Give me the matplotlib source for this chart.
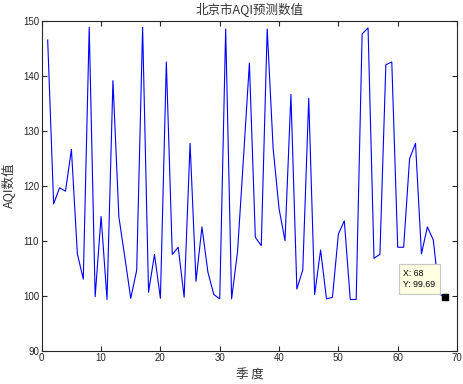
import numpy as np
import matplotlib
matplotlib.use("Agg")
import matplotlib.pyplot as plt

# 季度 / 预测的AQI数值
quarters = np.arange(1, 69)
aqi_pred = [146.5, 116.7, 119.6, 119.0, 126.6, 107.6, 103.0, 148.8, 99.8, 114.4,
            99.3, 139.1, 114.3, 107.0, 99.5, 104.6, 148.8, 100.6, 107.5, 99.5,
            142.5, 107.5, 108.8, 99.7, 127.7, 102.6, 112.5, 104.3, 100.2, 99.4,
            148.5, 99.4, 108.0, 125.0, 142.3, 110.6, 109.1, 148.5, 126.8, 115.8,
            110.0, 136.6, 101.2, 104.7, 135.9, 100.2, 108.3, 99.4, 99.7, 111.2,
            113.6, 99.3, 99.3, 147.6, 148.7, 106.8, 107.5, 142.0, 142.5, 108.8,
            108.8, 124.9, 127.7, 107.6, 112.5, 110.1, 100.3, 99.69]

xticks = [0, 10, 20, 30, 40, 50, 60, 70]
yticks = [90, 100, 110, 120, 130, 140, 150]

cjk = ['Noto Sans CJK SC', 'DejaVu Sans']
plt.rcParams['font.family'] = ['Liberation Sans', 'DejaVu Sans']

fig = plt.figure(figsize=(4.64, 3.84), dpi=100)
ax = fig.add_axes([0.09, 0.087, 0.895, 0.859])

ax.plot(quarters, aqi_pred, color='#0000ff', linewidth=0.8)

ax.set_xlim(0, 70)
ax.set_ylim(90, 150)
ax.set_xticks(xticks)
ax.set_yticks(yticks)
ax.tick_params(direction='in', length=3.5, width=0.8, labelsize=7,
               top=True, right=True, colors='#262626', pad=2)
for s in ax.spines.values():
    s.set_linewidth(0.8)
    s.set_color('#262626')

ax.set_title('北京市AQI预测数值', family=cjk, fontsize=9, pad=5, color='#333333')
ax.set_xlabel('季 度', family=cjk, fontsize=9, labelpad=4, color='#333333')
ax.set_ylabel('AQI数值', family=cjk, fontsize=9, labelpad=5, color='#333333')

# 数据游标
last_x, last_y = quarters[-1], aqi_pred[-1]
ax.plot([last_x], [last_y], marker='s', color='black', markersize=4.5, clip_on=False)
ax.annotate('X: %d\nY: %.2f' % (last_x, last_y), xy=(last_x, last_y),
            xytext=(-10, 8), textcoords='offset pixels', ha='right', va='bottom',
            multialignment='left', fontsize=6.3, linespacing=1.4,
            bbox=dict(boxstyle='square,pad=0.5', facecolor='#ffffe1', edgecolor='#c8c8c8', linewidth=0.8))

fig.savefig('out.png', dpi=100)
